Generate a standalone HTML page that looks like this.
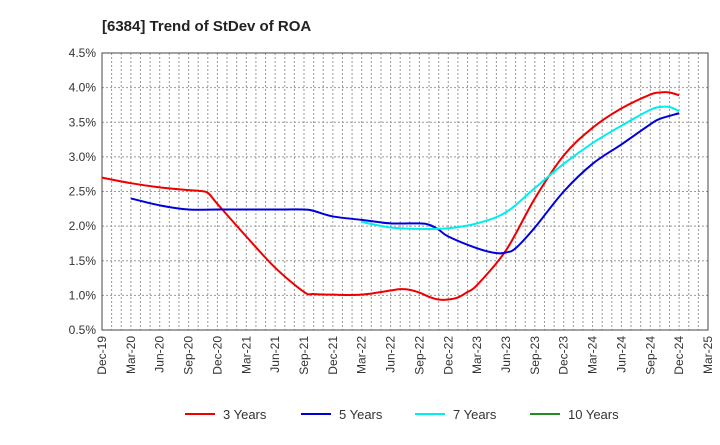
<!DOCTYPE html>
<html><head><meta charset="utf-8"><style>
body{margin:0;background:#fff;font-family:"Liberation Sans",sans-serif}
</style></head><body>
<svg id="chart" width="720" height="440" xmlns="http://www.w3.org/2000/svg" font-family="Liberation Sans, sans-serif">
<text x="102" y="31" font-size="15" font-weight="bold" fill="#222">[6384]  Trend of StDev of ROA</text>
<g id="grid"></g><g id="axes"></g><g id="series"></g><g id="legend"></g>
</svg>
<script>
const xTickLabels=["Dec-19","Mar-20","Jun-20","Sep-20","Dec-20","Mar-21","Jun-21","Sep-21","Dec-21","Mar-22","Jun-22","Sep-22","Dec-22","Mar-23","Jun-23","Sep-23","Dec-23","Mar-24","Jun-24","Sep-24","Dec-24","Mar-25"];
const yTicks=[0.5,1.0,1.5,2.0,2.5,3.0,3.5,4.0,4.5];
// months since Dec-19
const m3=[0,3,6,9,10,11,12,15,18,21,22,24,27,30,31,32,33,34,35,36,37,38,39,42,45,48,51,54,57,58,59,60];
const v3=[2.70,2.62,2.56,2.52,2.51,2.48,2.32,1.85,1.40,1.05,1.02,1.01,1.01,1.07,1.09,1.08,1.04,0.98,0.94,0.94,0.97,1.05,1.15,1.65,2.40,3.02,3.42,3.70,3.90,3.93,3.93,3.89];
const m5=[3,6,9,12,15,18,21,22,24,27,30,33,34,35,36,39,41,42,43,45,48,51,54,57,58,60];
const v5=[2.40,2.30,2.24,2.24,2.24,2.24,2.24,2.22,2.14,2.09,2.04,2.04,2.02,1.95,1.85,1.68,1.61,1.62,1.68,1.98,2.50,2.90,3.18,3.47,3.55,3.63];
const m7=[27,30,33,36,39,42,45,48,51,54,57,58,59,60];
const v7=[2.06,1.98,1.96,1.97,2.04,2.20,2.55,2.90,3.20,3.45,3.68,3.72,3.72,3.66];
const m10=[];const v10=[];
const L=102,R=708,T=53,B=330,NS="http://www.w3.org/2000/svg";
const xs=m=>L+(R-L)*m/63, ys=v=>B-(B-T)*(v-0.5)/4.0;
function mk(t,a,p){const e=document.createElementNS(NS,t);for(const k in a)e.setAttribute(k,a[k]);p.appendChild(e);return e;}
const grid=document.getElementById('grid'),axes=document.getElementById('axes'),ser=document.getElementById('series'),leg=document.getElementById('legend');
for(let m=1;m<63;m++){const l=mk('line',{x1:xs(m),x2:xs(m),y1:T,y2:B,stroke:'#999','stroke-dasharray':'2,2','stroke-width':1},grid);

}
yTicks.forEach(v=>{const l=mk('line',{x1:L,x2:R,y1:ys(v),y2:ys(v),stroke:'#999','stroke-dasharray':'2,2','stroke-width':1},grid);


const t=mk('text',{x:L-6,y:ys(v)+4,'text-anchor':'end','font-size':12,fill:'#333'},axes);


t.textContent=v.toFixed(1)+'%';});
const box=mk('rect',{x:L,y:T,width:R-L,height:B-T,fill:'none',stroke:'#444','stroke-width':1},axes);


xTickLabels.forEach((s,i)=>{const x=xs(i*3);const t=mk('text',{x:0,y:0,transform:`translate(${x+4},336) rotate(-90)`,'text-anchor':'end','font-size':12,fill:'#333'},axes);


t.textContent=s;});
function path(ms,vs){const p=ms.map((m,i)=>[xs(m),ys(vs[i])]);if(!p.length)return '';let d=`M${p[0][0]},${p[0][1]}`;
for(let i=0;i<p.length-1;i++){const p0=p[i-1]||p[i],p1=p[i],p2=p[i+1],p3=p[i+2]||p2;
d+=` C${p1[0]+(p2[0]-p0[0])/6},${p1[1]+(p2[1]-p0[1])/6} ${p2[0]-(p3[0]-p1[0])/6},${p2[1]-(p3[1]-p1[1])/6} ${p2[0]},${p2[1]}`;}return d;}
[[m3,v3,'#ee0000','series-3-years'],[m5,v5,'#0000dd','series-5-years'],[m7,v7,'#00eeee','series-7-years'],[m10,v10,'#228b22','series-10-years']].forEach(s=>{
if(!s[0].length)return;const e=mk('path',{d:path(s[0],s[1]),fill:'none',stroke:s[2],'stroke-width':2},ser);

});
[['3 Years','#ee0000',185],['5 Years','#0000dd',301],['7 Years','#00eeee',415],['10 Years','#228b22',530]].forEach(l=>{
const g=mk('g',{},leg);


mk('line',{x1:l[2],x2:l[2]+30,y1:414,y2:414,stroke:l[1],'stroke-width':2},g);
const t=mk('text',{x:l[2]+38,y:419,'font-size':13,fill:'#333'},g);t.textContent=l[0];});
</script>
</body></html>
